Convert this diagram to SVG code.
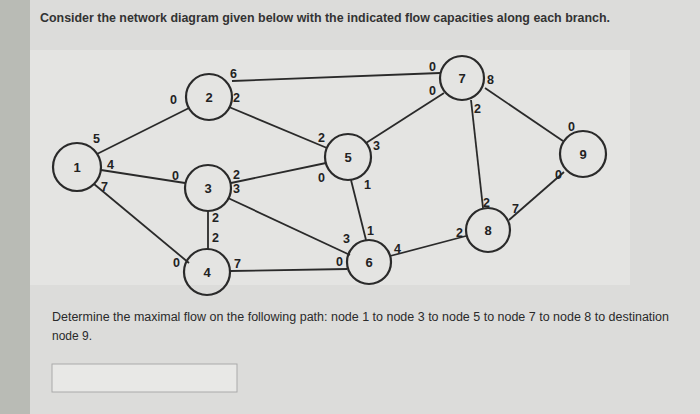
<svg xmlns="http://www.w3.org/2000/svg" width="700" height="414" viewBox="0 0 700 414">
<style>
.n{fill:none;stroke:#2a2a2a;stroke-width:2.2}
.e{stroke:#2a2a2a;stroke-width:1.8}
text{font-family:"Liberation Sans",Arial,sans-serif;fill:#222}
.l{font-size:12.5px;font-weight:bold}
.t{font-size:13px;text-anchor:middle;font-weight:bold}
.p{font-size:12px;fill:#2a2a2a}
</style>
<rect width="700" height="414" fill="#dcdcda"/>
<rect x="30" y="50" width="600" height="235" fill="#e4e4e2"/>
<rect x="0" y="0" width="30" height="414" fill="#b9bbb5"/>
<text x="40" y="22" class="p" style="font-weight:bold;fill:#333" textLength="570" lengthAdjust="spacingAndGlyphs">Consider the network diagram given below with the indicated flow capacities along each branch.</text>
<g id="connectors">
<line class="e" x1="97" y1="154" x2="189" y2="108"/>
<line class="e" x1="101" y1="170" x2="185" y2="183"/>
<line class="e" x1="94" y1="184" x2="189" y2="263"/>
<line class="e" x1="232" y1="81" x2="440" y2="73"/>
<line class="e" x1="229" y1="107" x2="327" y2="148"/>
<line class="e" x1="231" y1="183" x2="326" y2="163"/>
<line class="e" x1="228" y1="198" x2="350" y2="255"/>
<line class="e" x1="208" y1="211" x2="208" y2="249"/>
<line class="e" x1="230" y1="271" x2="347" y2="269"/>
<line class="e" x1="366" y1="143" x2="444" y2="93"/>
<line class="e" x1="351" y1="180" x2="366" y2="240"/>
<line class="e" x1="390" y1="256" x2="466" y2="236"/>
<line class="e" x1="471" y1="100" x2="483" y2="208"/>
<line class="e" x1="485" y1="88" x2="563" y2="141"/>
<line class="e" x1="509" y1="220" x2="564" y2="172"/>
</g>
<g id="node1"><circle class="n" cx="77" cy="167" r="24"/><text class="t" x="77" y="172">1</text></g>
<g id="node2"><circle class="n" cx="209" cy="97" r="23"/><text class="t" x="209" y="102">2</text></g>
<g id="node3"><circle class="n" cx="208" cy="188" r="23"/><text class="t" x="208" y="193">3</text></g>
<g id="node4"><circle class="n" cx="207" cy="272" r="23"/><text class="t" x="207" y="277">4</text></g>
<g id="node5"><circle class="n" cx="348" cy="157" r="23"/><text class="t" x="348" y="162">5</text></g>
<g id="node6"><circle class="n" cx="369" cy="262" r="22"/><text class="t" x="369" y="267">6</text></g>
<g id="node7"><circle class="n" cx="462" cy="78" r="22"/><text class="t" x="462" y="83">7</text></g>
<g id="node8"><circle class="n" cx="488" cy="230" r="22"/><text class="t" x="488" y="235">8</text></g>
<g id="node9"><circle class="n" cx="583" cy="154" r="23"/><text class="t" x="583" y="159">9</text></g>
<g id="labels" class="l">
<text x="93" y="143">5</text><text x="107" y="169">4</text><text x="101" y="191">7</text>
<text x="170" y="104">0</text><text x="230" y="78">6</text><text x="233" y="102">2</text>
<text x="172" y="180">0</text><text x="233" y="179">2</text><text x="233" y="193">3</text>
<text x="212" y="222">2</text><text x="212" y="242">2</text>
<text x="173" y="267">0</text><text x="234" y="268">7</text>
<text x="318" y="142">2</text><text x="318" y="182">0</text><text x="373" y="150">3</text><text x="364" y="189">1</text>
<text x="343" y="243">3</text><text x="367" y="235">1</text><text x="336" y="266">0</text><text x="394" y="253">4</text>
<text x="429" y="71">0</text><text x="429" y="95">0</text><text x="487" y="84">8</text><text x="474" y="113">2</text>
<text x="483" y="207">2</text><text x="512" y="213">7</text><text x="456" y="237">2</text>
<text x="568" y="131">0</text><text x="555" y="179">0</text>
</g>
<text x="52" y="321" class="p" textLength="617" lengthAdjust="spacingAndGlyphs">Determine the maximal flow on the following path: node 1 to node 3 to node 5 to node 7 to node 8 to destination</text>
<text x="52" y="340" class="p">node 9.</text>
<rect x="52" y="364" width="185" height="28" fill="#e8e8e6" stroke="#aaa"/>
</svg>
